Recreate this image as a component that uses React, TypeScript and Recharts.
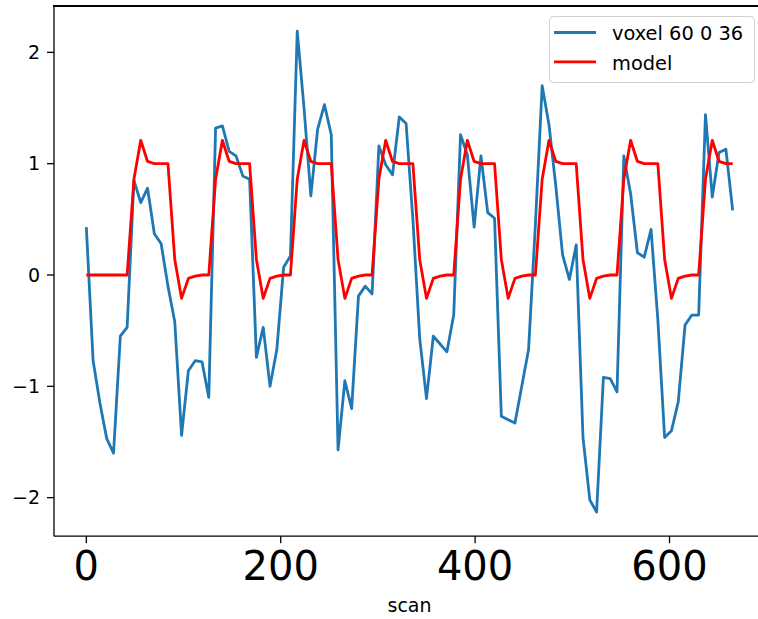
import { LineChart, Line, XAxis, YAxis, Legend } from "recharts";

// scan times (TR = 7 s), 96 scans
const scans = [
  0, 7, 14, 21, 28, 35, 42, 49, 56, 63, 70, 77, 84, 91, 98, 105, 112, 119, 126, 133,
  140, 147, 154, 161, 168, 175, 182, 189, 196, 203, 210, 217, 224, 231, 238, 245, 252,
  259, 266, 273, 280, 287, 294, 301, 308, 315, 322, 329, 336, 343, 350, 357, 364, 371,
  378, 385, 392, 399, 406, 413, 420, 427, 434, 441, 448, 455, 462, 469, 476, 483, 490,
  497, 504, 511, 518, 525, 532, 539, 546, 553, 560, 567, 574, 581, 588, 595, 602, 609,
  616, 623, 630, 637, 644, 651, 658, 665,
];

const voxel = [
  0.43, -0.77, -1.15, -1.47, -1.6, -0.55, -0.47, 0.85, 0.65, 0.78, 0.37, 0.28, -0.1, -0.42,
  -1.44, -0.86, -0.77, -0.78, -1.1, 1.32, 1.34, 1.11, 1.07, 0.89, 0.86, -0.74, -0.47, -1.0,
  -0.67, 0.07, 0.17, 2.19, 1.5, 0.71, 1.31, 1.53, 1.26, -1.57, -0.95, -1.2, -0.19, -0.1,
  -0.17, 1.16, 0.99, 0.9, 1.42, 1.36, 0.5, -0.57, -1.11, -0.55, -0.62, -0.69, -0.36, 1.26,
  1.08, 0.43, 1.07, 0.56, 0.51, -1.27, -1.3, -1.33, -1.0, -0.67, 0.45, 1.7, 1.35, 0.8, 0.18,
  -0.04, 0.27, -1.46, -2.02, -2.13, -0.92, -0.93, -1.05, 1.07, 0.73, 0.2, 0.16, 0.41, -0.4,
  -1.46, -1.4, -1.14, -0.45, -0.36, -0.36, 1.44, 0.7, 1.1, 1.13, 0.58,
];

const model = [
  0, 0, 0, 0, 0, 0,
  0, 0.86, 1.21, 1.02, 1.0, 1.0, 1.0, 0.14, -0.21, -0.03, -0.01, 0,
  0, 0.86, 1.21, 1.02, 1.0, 1.0, 1.0, 0.14, -0.21, -0.03, -0.01, 0,
  0, 0.86, 1.21, 1.02, 1.0, 1.0, 1.0, 0.14, -0.21, -0.03, -0.01, 0,
  0, 0.86, 1.21, 1.02, 1.0, 1.0, 1.0, 0.14, -0.21, -0.03, -0.01, 0,
  0, 0.86, 1.21, 1.02, 1.0, 1.0, 1.0, 0.14, -0.21, -0.03, -0.01, 0,
  0, 0.86, 1.21, 1.02, 1.0, 1.0, 1.0, 0.14, -0.21, -0.03, -0.01, 0,
  0, 0.86, 1.21, 1.02, 1.0, 1.0, 1.0, 0.14, -0.21, -0.03, -0.01, 0,
  0, 0.86, 1.21, 1.02, 1.0, 1.0,
];

const xTicks = [0, 200, 400, 600];
const yTicks = [-2, -1, 0, 1, 2];
const xDomain = [-33.25, 698.25];
const yDomain = [-2.3465, 2.4165];

const chartData = scans.map((scan, i) => ({ scan, voxel: voxel[i], model: model[i] }));

const font = "DejaVu Sans";
const fmt = (v: number) => (v < 0 ? `\u2212${-v}` : `${v}`);
const legendOrder = ["voxel", "model"];
const spine = { stroke: "#000", strokeWidth: 1.3 };

function LegendBox(props: any) {
  const items = [...(props.payload || [])].sort(
    (a: any, b: any) => legendOrder.indexOf(a.dataKey) - legendOrder.indexOf(b.dataKey)
  );
  return (
    <svg width={206} height={67} style={{ display: "block" }}>
      <rect x={0.5} y={0.5} width={205} height={66} rx={4} fill="#fff" fillOpacity={0.8} stroke="#d0d0d0" />
      {items.map((p: any, i: number) => (
        <g key={p.value}>
          <line x1={5} x2={47} y1={16.5 + i * 29.4} y2={16.5 + i * 29.4} stroke={p.color} strokeWidth={2.8} />
          <text x={63} y={23.5 + i * 30} fontSize={19.4} fontFamily={font} fill="#000">
            {p.value}
          </text>
        </g>
      ))}
    </svg>
  );
}

export default function App() {
  return (
    <div
      style={{ position: "fixed", top: 0, left: 0, width: 758, height: 619, overflow: "hidden", background: "#fff" }}
    >
      <LineChart
        width={771}
        height={619}
        data={chartData}
        margin={{ top: 6, right: 6, bottom: 0, left: 0 }}
        style={{ fontFamily: font }}
      >
        <XAxis
          dataKey="scan"
          type="number"
          domain={xDomain}
          ticks={xTicks}
          height={82.8}
          tickSize={7}
          tickMargin={8.5}
          tick={{ fill: "#000", fontSize: 40, fontFamily: font }}
          axisLine={spine}
          tickLine={spine}
          label={{ value: "scan", position: "insideBottom", offset: 7.3, fontSize: 19, fill: "#000", fontFamily: font }}
        />
        <YAxis
          type="number"
          domain={yDomain}
          ticks={yTicks}
          width={54}
          tickSize={7}
          tickMargin={7}
          tickFormatter={fmt}
          tick={{ fill: "#000", fontSize: 19, fontFamily: font }}
          axisLine={spine}
          tickLine={spine}
        />
        <Line
          dataKey="voxel"
          name="voxel 60 0 36"
          stroke="#1f77b4"
          strokeWidth={2.8}
          strokeLinejoin="round"
          dot={false}
          isAnimationActive={false}
        />
        <Line
          dataKey="model"
          name="model"
          stroke="#ff0000"
          strokeWidth={2.8}
          strokeLinejoin="round"
          dot={false}
          isAnimationActive={false}
        />
        <Legend
          layout="vertical"
          align="center"
          verticalAlign="middle"
          content={LegendBox}
          wrapperStyle={{ top: 15.5, left: 549, width: 206, height: 67 }}
        />
      </LineChart>
      {/* top spine of the axes box (right spine falls past the cropped edge) */}
      <div
        style={{ position: "absolute", top: 5, left: 53, width: 705, height: 2, background: "#000", zIndex: 5 }}
      />
    </div>
  );
}
